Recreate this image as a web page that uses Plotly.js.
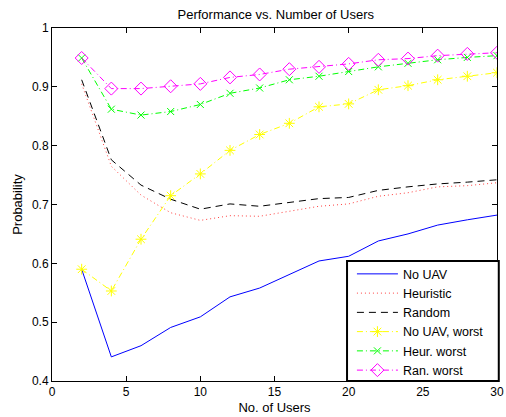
<!DOCTYPE html>
<html>
<head>
<meta charset="utf-8">
<script src="https://cdn.plot.ly/plotly-3.0.1.min.js"></script>
<style>html,body{margin:0;padding:0;background:#fff;}#chart{width:506px;height:417px;}</style>
</head>
<body>
<div id="chart"></div>
<script>
const users = [2, 4, 6, 8, 10, 12, 14, 16, 18, 20, 22, 24, 26, 28, 30];
const noUav = [0.590, 0.441, 0.460, 0.491, 0.509, 0.543, 0.558, 0.581, 0.604, 0.612, 0.638, 0.650, 0.665, 0.674, 0.682];
const heuristic = [0.905, 0.765, 0.716, 0.686, 0.673, 0.681, 0.680, 0.689, 0.697, 0.701, 0.714, 0.720, 0.730, 0.732, 0.737];
const random = [0.912, 0.776, 0.733, 0.709, 0.692, 0.701, 0.697, 0.703, 0.710, 0.712, 0.724, 0.730, 0.735, 0.738, 0.742];
const noUavWorst = [0.590, 0.553, 0.641, 0.715, 0.752, 0.792, 0.819, 0.838, 0.866, 0.871, 0.895, 0.902, 0.912, 0.918, 0.924];
const heurWorst = [0.949, 0.862, 0.852, 0.858, 0.870, 0.889, 0.898, 0.912, 0.918, 0.926, 0.934, 0.940, 0.946, 0.950, 0.953];
const ranWorst = [0.949, 0.897, 0.897, 0.901, 0.905, 0.916, 0.921, 0.930, 0.934, 0.939, 0.946, 0.948, 0.953, 0.956, 0.958];
const seriesNames = ['No UAV', 'Heuristic', 'Random', 'No UAV, worst', 'Heur. worst', 'Ran. worst'];
const xTicks = [0, 5, 10, 15, 20, 25, 30];
const yTicks = [0.4, 0.5, 0.6, 0.7, 0.8, 0.9, 1];

const FONT = 'Liberation Sans, Arial, Helvetica, sans-serif';
const DASHDOT = '6px,3px,1px,3px';

const traces = [
  {x: users, y: noUav, name: seriesNames[0], mode: 'lines', line: {color: '#0000ff', width: 1}},
  {x: users, y: heuristic, name: seriesNames[1], mode: 'lines', line: {color: '#ff4040', width: 1, dash: '1px,3px'}},
  {x: users, y: random, name: seriesNames[2], mode: 'lines', line: {color: '#000000', width: 1, dash: '7px,5px'}},
  {x: users, y: noUavWorst, name: seriesNames[3], mode: 'lines+markers', line: {color: '#ffff00', width: 1, dash: DASHDOT},
   marker: {symbol: 'asterisk-open', size: 9, color: '#ffff00', line: {color: '#ffff00', width: 1}}},
  {x: users, y: heurWorst, name: seriesNames[4], mode: 'lines+markers', line: {color: '#00ff00', width: 1, dash: DASHDOT},
   marker: {symbol: 'x-thin-open', size: 7, color: '#00ff00', line: {color: '#00ff00', width: 1}}},
  {x: users, y: ranWorst, name: seriesNames[5], mode: 'lines+markers', line: {color: '#ff00ff', width: 1, dash: DASHDOT},
   marker: {symbol: 'diamond-open', size: 10, color: '#ff00ff', line: {color: '#ff00ff', width: 1}}}
];

const layout = {
  width: 506, height: 417,
  margin: {l: 52, r: 9, t: 28, b: 36},
  paper_bgcolor: '#ffffff', plot_bgcolor: '#ffffff',
  font: {family: FONT, size: 12, color: '#000'},
  title: {text: 'Performance vs. Number of Users', font: {family: FONT, size: 13, color: '#000'},
          x: 0.545, xanchor: 'center', y: 0.966, yanchor: 'middle', yref: 'container'},
  xaxis: {range: [0, 30], tickvals: xTicks, ticks: 'inside', ticklen: 5, tickcolor: '#000',
          showline: true, linecolor: '#000', linewidth: 1, mirror: 'ticks', showgrid: false, zeroline: false,
          tickfont: {size: 12}, title: {text: 'No. of Users', font: {size: 13}, standoff: 4}},
  yaxis: {range: [0.4, 1], tickvals: yTicks, ticks: 'inside', ticklen: 5, tickcolor: '#000',
          showline: true, linecolor: '#000', linewidth: 1, mirror: 'ticks', showgrid: false, zeroline: false,
          tickfont: {size: 12}, title: {text: 'Probability', font: {size: 13}, standoff: 6}},
  shapes: [{type: 'rect', xref: 'paper', yref: 'paper', x0: 0.663, x1: 1.004, y0: 0, y1: 0.34,
            fillcolor: '#ffffff', line: {color: '#000', width: 2}, layer: 'above'}],
  legend: {x: 0.674, xanchor: 'left', y: -0.012, yanchor: 'bottom', bgcolor: 'rgba(0,0,0,0)', borderwidth: 0,
           font: {size: 12.5}, tracegroupgap: 0, itemwidth: 41}
};

Plotly.newPlot('chart', traces, layout, {displayModeBar: false, staticPlot: true});
</script>
</body>
</html>
